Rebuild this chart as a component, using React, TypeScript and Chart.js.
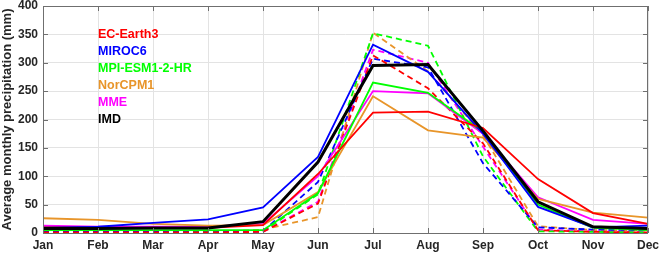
import React, { useEffect, useRef } from "react";
import { Chart, registerables } from "chart.js";
Chart.register(...registerables);

const months = ["Jan", "Feb", "Mar", "Apr", "May", "Jun", "Jul", "Aug", "Sep", "Oct", "Nov", "Dec"];
const yTicks = [0, 50, 100, 150, 200, 250, 300, 350, 400];

// Solid lines (shown in legend)
const imd = [8, 8, 9, 9, 20, 125, 295, 297, 180, 55, 11, 8];
const ecEarth3 = [10, 9, 9, 9, 14, 104, 212, 214, 185, 95, 35, 16];
const miroc6 = [10, 11, 18, 24, 45, 134, 332, 284, 175, 46, 10, 13];
const mpiEsm = [5, 5, 5, 5, 5, 70, 265, 247, 178, 50, 9, 5];
const norCpm1 = [26, 23, 16, 13, 14, 72, 241, 181, 168, 60, 36, 27];
const mme = [13, 11, 11, 11, 16, 100, 250, 246, 175, 63, 23, 16];

// Dashed lines
const ecEarth3Dash = [1, 1, 1, 1, 2, 52, 313, 255, 158, 5, 2, 1];
const miroc6Dash = [2, 2, 2, 1, 3, 90, 307, 292, 123, 10, 6, 5];
const mpiEsmDash = [3, 3, 3, 3, 3, 68, 352, 330, 135, 3, 2, 1];
const norCpm1Dash = [1, 1, 1, 1, 6, 28, 353, 285, 172, 12, 5, 5];
const mmeDash = [1, 1, 1, 1, 2, 55, 323, 300, 152, 6, 3, 2];

const RED = "#ff0000";
const BLUE = "#0000ff";
const GREEN = "#00ff00";
const ORANGE = "#e8952a";
const MAGENTA = "#ff00ff";
const BLACK = "#000000";

const legendItems = [
  { label: "EC-Earth3", color: RED },
  { label: "MIROC6", color: BLUE },
  { label: "MPI-ESM1-2-HR", color: GREEN },
  { label: "NorCPM1", color: ORANGE },
  { label: "MME", color: MAGENTA },
  { label: "IMD", color: BLACK },
];
const legendLevels = [350, 320, 290, 260, 230, 200];

const FONT = '"Liberation Sans", Arial, Helvetica, sans-serif';

export default function App() {
  const ref = useRef<HTMLCanvasElement>(null);

  useEffect(() => {
    document.body.style.margin = "0";
    const solid = (label: string, data: number[], color: string, width = 1.8) => ({
      label,
      data,
      borderColor: color,
      backgroundColor: color,
      borderWidth: width,
      pointRadius: 0,
      tension: 0,
      fill: false,
    });
    const dashed = (label: string, data: number[], color: string) => ({
      label,
      data,
      borderColor: color,
      backgroundColor: color,
      borderWidth: 1.8,
      borderDash: [6, 4],
      pointRadius: 0,
      tension: 0,
      fill: false,
    });

    const framePlugin = {
      id: "frame",
      afterDraw(chart: any) {
        const { ctx, chartArea } = chart;
        const { left, right, top, bottom } = chartArea;
        const xs = chart.scales.x;
        const ys = chart.scales.y;
        ctx.save();
        ctx.strokeStyle = "#6f6f6f";
        ctx.lineWidth = 1;
        ctx.strokeRect(left + 0.5, top + 0.5, right - left - 1, bottom - top);
        ctx.beginPath();
        const tl = 5;
        yTicks.forEach((v) => {
          const y = Math.round(ys.getPixelForValue(v)) + 0.5;
          ctx.moveTo(left, y);
          ctx.lineTo(left + tl, y);
          ctx.moveTo(right, y);
          ctx.lineTo(right - tl, y);
        });
        months.forEach((_, i) => {
          const x = Math.round(xs.getPixelForValue(i)) + 0.5;
          ctx.moveTo(x, bottom);
          ctx.lineTo(x, bottom - tl);
          ctx.moveTo(x, top);
          ctx.lineTo(x, top + tl);
        });
        ctx.stroke();

        ctx.font = `bold 12.5px ${FONT}`;
        ctx.textBaseline = "middle";
        ctx.textAlign = "left";
        const lx = xs.getPixelForValue(1);
        legendItems.forEach((it, i) => {
          ctx.fillStyle = it.color;
          ctx.fillText(it.label, lx, ys.getPixelForValue(legendLevels[i]));
        });
        ctx.restore();
      },
    };

    const chart = new Chart(ref.current!, {
      type: "line",
      data: {
        labels: months,
        datasets: [
          solid("IMD", imd, BLACK, 3),
          solid("EC-Earth3", ecEarth3, RED),
          solid("MIROC6", miroc6, BLUE),
          solid("MPI-ESM1-2-HR", mpiEsm, GREEN),
          solid("NorCPM1", norCpm1, ORANGE),
          solid("MME", mme, MAGENTA),
          dashed("EC-Earth3 (dashed)", ecEarth3Dash, RED),
          dashed("MIROC6 (dashed)", miroc6Dash, BLUE),
          dashed("MPI-ESM1-2-HR (dashed)", mpiEsmDash, GREEN),
          dashed("NorCPM1 (dashed)", norCpm1Dash, ORANGE),
          dashed("MME (dashed)", mmeDash, MAGENTA),
        ] as any,
      },
      options: {
        responsive: false,
        animation: false,
        devicePixelRatio: 1,
        layout: { padding: { top: 6, right: 12, left: 0, bottom: 0 } },
        plugins: {
          legend: { display: false },
          tooltip: { enabled: false },
        },
        scales: {
          x: {
            type: "category",
            offset: false,
            grid: { color: "#e3e3e3", drawTicks: false },
            border: { display: false },
            ticks: {
              autoSkip: false,
              maxRotation: 0,
              padding: 5,
              color: "#262626",
              font: { family: FONT, size: 12, weight: "bold" },
            },
            afterFit(scale: any) {
              scale.height = 21;
              scale.paddingLeft = 0;
              scale.paddingRight = 0;
              scale.paddingTop = 0;
              scale.paddingBottom = 0;
            },
          },
          y: {
            min: 0,
            max: 400,
            grid: { color: "#e3e3e3", drawTicks: false },
            border: { display: false },
            ticks: {
              stepSize: 50,
              padding: 5,
              color: "#262626",
              font: { family: FONT, size: 12, weight: "bold" },
            },
            title: {
              display: true,
              text: "Average monthly precipitation (mm)",
              color: "#262626",
              font: { family: FONT, size: 13, weight: "bold" },
              padding: { top: 0, bottom: 0 },
            },
            afterFit(scale: any) {
              scale.width = 43;
              scale.paddingLeft = 0;
              scale.paddingRight = 0;
              scale.paddingTop = 0;
              scale.paddingBottom = 0;
            },
          },
        },
      },
      plugins: [framePlugin],
    });
    return () => chart.destroy();
  }, []);

  return (
    <div style={{ width: 660, height: 254 }}>
      <canvas ref={ref} width={660} height={254} style={{ display: "block" }} />
    </div>
  );
}
